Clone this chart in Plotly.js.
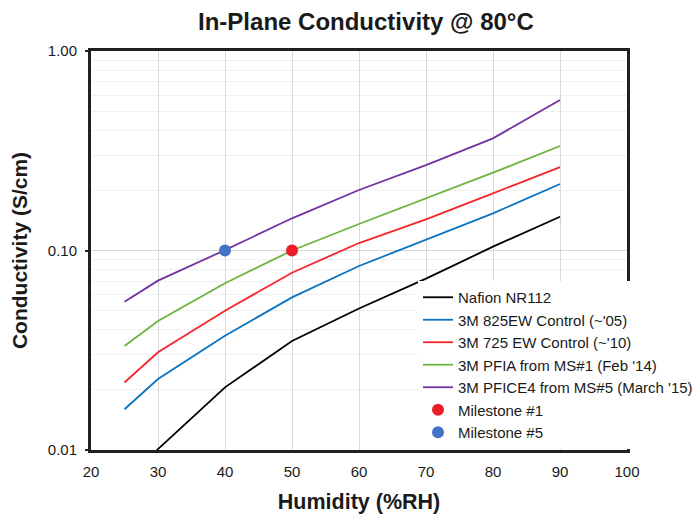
<!DOCTYPE html>
<html>
<head>
<meta charset="utf-8">
<script src="https://cdn.plot.ly/plotly-3.0.1.min.js"></script>
<style>html,body{margin:0;padding:0;background:#fff;}#chart{width:693px;height:514px;}</style>
</head>
<body>
<div id="chart"></div>
<script>
// Humidity (%RH)
const humidity = [25, 30, 40, 50, 60, 70, 80, 90];
// Conductivity (S/cm)
const nafionNR112 = [0.0068, 0.0101, 0.0206, 0.0352, 0.0512, 0.0723, 0.1045, 0.1477];
const ew825 = [0.0160, 0.0227, 0.0374, 0.0582, 0.0836, 0.1130, 0.1536, 0.2154];
const ew725 = [0.0218, 0.0309, 0.0499, 0.0774, 0.1090, 0.1433, 0.1935, 0.2620];
const pfia = [0.0332, 0.0443, 0.0685, 0.1000, 0.1358, 0.1827, 0.2455, 0.3340];
const pfice4 = [0.0553, 0.0706, 0.1005, 0.1450, 0.2010, 0.2680, 0.3650, 0.5680];
const milestone1X = [50], milestone1Y = [0.10];
const milestone5X = [40], milestone5Y = [0.10];
const seriesNames = ["Nafion NR112", "3M 825EW Control (~'05)", "3M 725 EW Control (~'10)",
  "3M PFIA from MS#1 (Feb '14)", "3M PFICE4 from MS#5 (March '15)", "Milestone #1", "Milestone #5"];
const xTickVals = [20, 30, 40, 50, 60, 70, 80, 90, 100];
const yTickVals = [0.01, 0.1, 1];
const yTickText = ["0.01", "0.10", "1.00"];
const yMinorVals = [0.02, 0.03, 0.04, 0.05, 0.06, 0.07, 0.08, 0.09, 0.2, 0.3, 0.4, 0.5, 0.6, 0.7, 0.8, 0.9];

const FONT = "Arial, 'Liberation Sans', Helvetica, sans-serif";
const lineSeries = [nafionNR112, ew825, ew725, pfia, pfice4];
const lineColors = ["#000000", "#0a73c2", "#f5262a", "#6cb33f", "#7232a0"];

const traces = lineSeries.map((ys, i) => ({
  type: "scatter", mode: "lines", x: humidity, y: ys, name: seriesNames[i],
  line: {color: lineColors[i], width: 1.8}
}));
traces.push({type: "scatter", mode: "markers", x: milestone1X, y: milestone1Y, name: seriesNames[5],
  marker: {color: "#ee1c25", size: 12}});
traces.push({type: "scatter", mode: "markers", x: milestone5X, y: milestone5Y, name: seriesNames[6],
  marker: {color: "#4472c4", size: 12}});

const frame = "#231f20";
const layout = {
  width: 693, height: 514,
  margin: {l: 91, r: 66, t: 51, b: 64, autoexpand: false},
  paper_bgcolor: "#ffffff", plot_bgcolor: "#ffffff",
  font: {family: FONT, size: 15, color: "#1a1a1a"},
  title: {text: "In-Plane Conductivity @ 80°C", font: {family: FONT, size: 24, color: "#1a1a1a", weight: "bold"},
    x: 0.528, xanchor: "center", y: 1 - 22/514, yanchor: "middle"},
  xaxis: {
    range: [20, 100], tickmode: "array", tickvals: xTickVals,
    showgrid: true, gridcolor: "#d9d9d9", gridwidth: 1,
    showline: true, linecolor: frame, linewidth: 3, mirror: true,
    ticks: "", zeroline: false, ticklabelstandoff: 6,
    tickfont: {family: FONT, size: 15, color: "#1a1a1a"},
    title: {text: "Humidity (%RH)", font: {family: FONT, size: 21.5, color: "#1a1a1a", weight: "bold"}, standoff: 17}
  },
  yaxis: {
    type: "log", range: [-2, 0], tickmode: "array", tickvals: yTickVals, ticktext: yTickText,
    showgrid: true, gridcolor: "#d9d9d9", gridwidth: 1,
    minor: {tickmode: "array", tickvals: yMinorVals, showgrid: true, gridcolor: "#f0f0f0", gridwidth: 1, ticks: ""},
    showline: true, linecolor: frame, linewidth: 3, mirror: true,
    ticks: "outside", ticklen: 3, tickcolor: frame, tickwidth: 2, ticklabelstandoff: 5,
    tickfont: {family: FONT, size: 15, color: "#1a1a1a"},
    title: {text: "Conductivity (S/cm)", font: {family: FONT, size: 21, color: "#1a1a1a", weight: "bold"}, standoff: 15}
  },
  showlegend: true,
  legend: {
    x: (418 - 91) / 536, xanchor: "left", y: (450 - 281) / 399, yanchor: "top",
    bgcolor: "#ffffff", borderwidth: 0,
    font: {family: FONT, size: 15, color: "#1a1a1a"},
    tracegroupgap: 0
  }
};

Plotly.newPlot("chart", traces, layout, {displayModeBar: false, staticPlot: true});
</script>
</body>
</html>
